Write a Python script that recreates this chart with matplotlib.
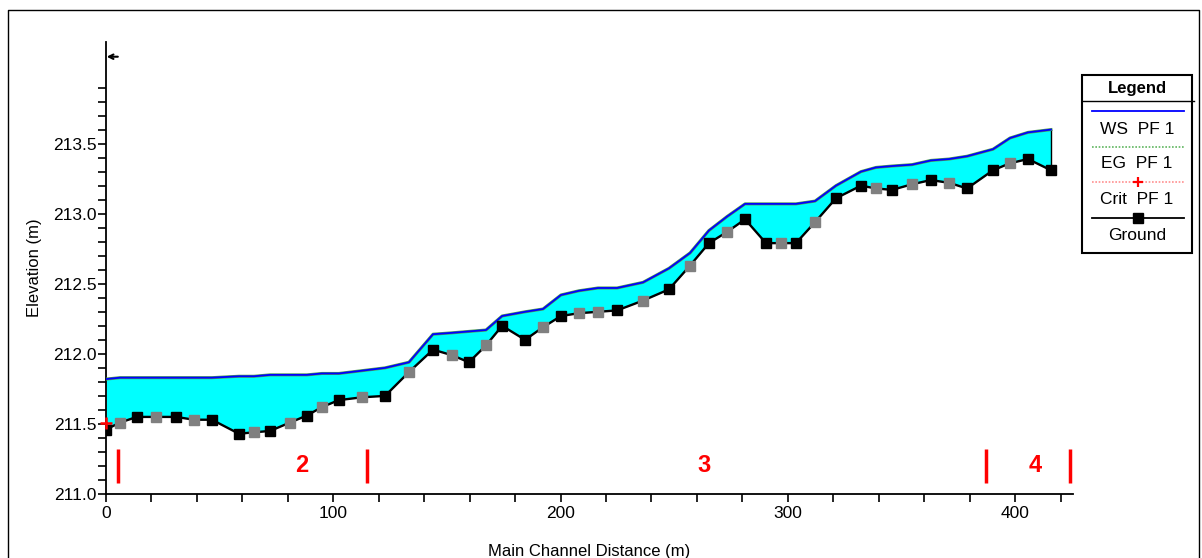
import numpy as np
import matplotlib
matplotlib.use('Agg')
import matplotlib.pyplot as plt

plt.rcParams['font.family'] = ['Liberation Sans', 'DejaVu Sans']

# main channel stations (m) and ground elevation (m)
station = [0.0, 6.2, 13.6, 22.0, 30.8, 38.7, 46.6, 58.5, 65.1, 72.2,
           81.0, 88.4, 95.0, 102.5, 112.7, 122.8, 133.3, 143.9, 152.3, 159.7,
           167.2, 174.3, 184.4, 192.3, 200.2, 208.1, 216.5, 224.9, 236.3, 247.7,
           257.0, 265.3, 273.3, 281.2, 290.4, 297.0, 303.6, 312.0, 321.2, 332.2,
           338.8, 345.9, 354.7, 363.0, 371.0, 378.9, 390.3, 397.8, 405.7, 415.8]
ground = [211.46, 211.51, 211.55, 211.55, 211.55, 211.53, 211.53, 211.43, 211.44, 211.45,
          211.51, 211.56, 211.62, 211.67, 211.69, 211.70, 211.87, 212.03, 211.99, 211.94,
          212.06, 212.20, 212.10, 212.19, 212.27, 212.29, 212.30, 212.31, 212.38, 212.46,
          212.63, 212.79, 212.87, 212.96, 212.79, 212.79, 212.79, 212.94, 213.11, 213.20,
          213.18, 213.17, 213.21, 213.24, 213.22, 213.18, 213.31, 213.36, 213.39, 213.31]
# 1 = interpolated cross section (grey marker)
interp = [0, 1, 0, 1, 0, 1, 0, 0, 1, 0,
          1, 0, 1, 0, 1, 0, 1, 0, 1, 0,
          1, 0, 0, 1, 0, 1, 1, 0, 1, 0,
          1, 0, 1, 0, 0, 1, 0, 1, 0, 0,
          1, 0, 1, 0, 1, 0, 0, 1, 0, 0]
ws_pf1 = [211.82, 211.83, 211.83, 211.83, 211.83, 211.83, 211.83, 211.84, 211.84, 211.85,
          211.85, 211.85, 211.86, 211.86, 211.88, 211.90, 211.94, 212.14, 212.15, 212.16,
          212.17, 212.27, 212.30, 212.32, 212.42, 212.45, 212.47, 212.47, 212.51, 212.61,
          212.72, 212.88, 212.98, 213.07, 213.07, 213.07, 213.07, 213.09, 213.20, 213.30,
          213.33, 213.34, 213.35, 213.38, 213.39, 213.41, 213.46, 213.54, 213.58, 213.60]
eg_pf1 = ws_pf1  # energy grade sits right on the water surface
crit_x = [0.0]
crit_y = [211.51]

# reach boundaries and reach numbers
reach_bounds = [5.3, 115.0, 387.0, 424.0]
reach_labels = ['2', '3', '4']
reach_label_x = [86.0, 263.0, 409.0]

fig = plt.figure(figsize=(12.02, 5.58), dpi=100)

# overlay in pixel coords for frame + legend
bg = fig.add_axes([0, 0, 1, 1])
bg.set_xlim(0, 1202)
bg.set_ylim(558, 0)
bg.axis('off')
bg.plot([8, 8, 1199, 1199], [558, 10, 10, 558], color='black', lw=1)

# legend box
bg.add_patch(plt.Rectangle((1082, 75), 110, 178, fill=False, ec='black', lw=1.5))
bg.plot([1082, 1194], [101, 101], color='black', lw=1)
bg.text(1137, 88, 'Legend', ha='center', va='center', fontsize=12, fontweight='bold')
bg.plot([1092, 1184], [111, 111], color='#0000ff', lw=1.3)
bg.text(1137, 129, 'WS  PF 1', ha='center', va='center', fontsize=12.5)
bg.plot([1092, 1184], [147, 147], color='#5fb55f', lw=1.2, ls=(0, (1, 1)))
bg.text(1137, 164, 'EG  PF 1', ha='center', va='center', fontsize=12.5)
bg.plot([1092, 1184], [182, 182], color='#ff9090', lw=1.2, ls=(0, (1, 1)))
bg.plot([1138], [182], marker='+', color='red', ms=7, mew=1.6)
bg.text(1137, 199, 'Crit  PF 1', ha='center', va='center', fontsize=12.5)
bg.plot([1092, 1184], [218, 218], color='black', lw=1.3)
bg.plot([1138], [218], marker='s', color='black', ms=6.5)
bg.text(1137, 235, 'Ground', ha='center', va='center', fontsize=12.5)

ax = fig.add_axes([106/1202, 1 - 494/558, (1073 - 106)/1202, (494 - 42)/558])
ax.patch.set_alpha(0)

ax.fill_between(station, ground, ws_pf1, color='#00ffff', lw=0, zorder=1)
ax.plot([station[-1], station[-1]], [ground[-1], ws_pf1[-1]], color='black', lw=1, zorder=2)
ax.plot(station, eg_pf1, color='#4f9f4f', lw=2.2, zorder=3)
ax.plot(station, ws_pf1, color='#0000ff', lw=1.3, zorder=4)
ax.plot(station, ground, color='black', lw=1.7, zorder=5)
st = np.array(station)
gr = np.array(ground)
fl = np.array(interp) == 1
ax.plot(st[~fl], gr[~fl], ls='none', marker='s', ms=6.5, color='black', zorder=6)
ax.plot(st[fl], gr[fl], ls='none', marker='s', ms=6.5, color='#808080', zorder=6)
ax.plot(crit_x, crit_y, ls='none', marker='+', ms=8, mew=1.8, color='red', zorder=7, clip_on=False)

ax.vlines(reach_bounds, 211.08, 211.32, colors='red', lw=2.5, zorder=6, clip_on=False)
for lx, lab in zip(reach_label_x, reach_labels):
    ax.text(lx, 211.2, lab, color='red', fontsize=17, fontweight='bold', ha='center', va='center')

ax.annotate('', xy=(0.3, 214.12), xytext=(5.2, 214.12),
            arrowprops=dict(arrowstyle='->', color='black', lw=1.5, mutation_scale=8,
                            shrinkA=0, shrinkB=0),
            annotation_clip=False)

ax.set_xlim(0, 425.5)
ax.set_ylim(211.0, 214.225)
ax.spines['top'].set_visible(False)
ax.spines['right'].set_visible(False)
ax.spines['left'].set_linewidth(1.3)
ax.spines['bottom'].set_linewidth(1.3)

ax.set_xticks([0, 100, 200, 300, 400])
ax.set_xticks(np.arange(20, 421, 20), minor=True)
ax.set_yticks([211.0, 211.5, 212.0, 212.5, 213.0, 213.5])
ax.set_yticklabels(['211.0', '211.5', '212.0', '212.5', '213.0', '213.5'])
ax.set_yticks([v / 10 for v in range(2111, 2140) if v % 5 != 0], minor=True)
ax.tick_params(which='both', direction='out', length=6, width=1.2, labelsize=12.5, colors='black')
ax.tick_params(axis='y', pad=1)
ax.tick_params(axis='x', pad=3)

ax.set_xlabel('Main Channel Distance (m)', fontsize=12, labelpad=16)
ax.set_ylabel('Elevation (m)', fontsize=12, labelpad=8)

fig.savefig('out.png', dpi=100)
